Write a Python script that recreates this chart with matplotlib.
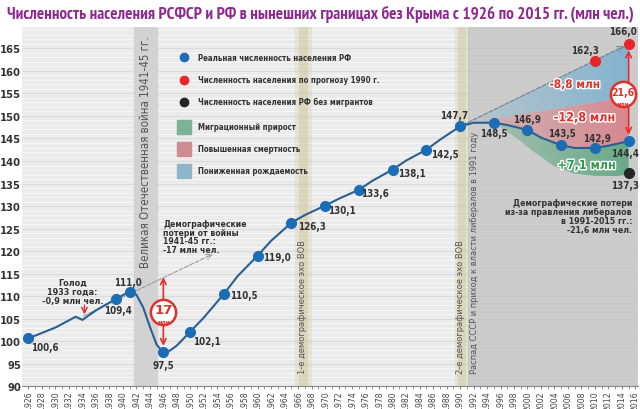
import numpy as np
import matplotlib
matplotlib.use("Agg")
import matplotlib.pyplot as plt
from matplotlib.patches import Polygon
import matplotlib.patheffects as pe

# population curve, mln
curve_years = [1926, 1930, 1933, 1934, 1936, 1939, 1941, 1942, 1943, 1944, 1945, 1946,
               1947, 1948, 1950, 1952, 1955, 1957, 1960, 1962, 1965, 1967, 1970, 1972,
               1975, 1977, 1980, 1982, 1985, 1987, 1990, 1992, 1995, 1997, 2000, 2002,
               2005, 2007, 2010, 2012, 2015]
curve_vals = [100.6, 103.0, 105.4, 104.7, 106.8, 109.4, 111.0, 110.3, 107.5, 103.2, 99.2, 97.5,
              97.9, 99.0, 102.1, 105.2, 110.5, 114.4, 119.0, 122.3, 126.3, 128.0, 130.1, 131.6,
              133.6, 135.6, 138.1, 140.1, 142.5, 144.7, 147.7, 148.5, 148.5, 148.0, 146.9, 145.2,
              143.5, 142.9, 142.9, 143.4, 144.4]

# labelled points
pt_years = [1926, 1939, 1941, 1946, 1950, 1955, 1960, 1965, 1970, 1975, 1980, 1985,
            1990, 1995, 2000, 2005, 2010, 2015]
pt_vals = [100.6, 109.4, 111.0, 97.5, 102.1, 110.5, 119.0, 126.3, 130.1, 133.6, 138.1, 142.5,
           147.7, 148.5, 146.9, 143.5, 142.9, 144.4]

# forecast 1990 and without migrants
fc_years = [2010, 2015]
fc_vals = [162.3, 166.0]
nomig_year = 2015
nomig_val = 137.3

# shaded zones boundaries
red_top_years = [1990, 1995, 2000, 2005, 2010, 2015]
red_top_vals = [147.7, 149.3, 150.6, 151.8, 153.0, 154.3]
green_bot_years = [1995, 1998, 2001, 2004, 2007, 2010, 2013, 2015]
green_bot_vals = [148.5, 145.5, 142.0, 138.8, 137.2, 136.7, 136.6, 137.0]

xtick_years = list(range(1926, 2017, 2))
ytick_vals = list(range(90, 166, 5))

COND = dict(family="DejaVu Sans", fontstretch="condensed")


def fmt(v):
    return f"{v:.1f}".replace(".", ",")


fig = plt.figure(figsize=(6.4, 4.1), dpi=100)
fig.patch.set_facecolor("white")
ax = fig.add_axes([0.035, 0.056, 0.962, 0.876])
ax.set_facecolor("#ebebeb")

# background stripes
for y in np.arange(90, 170, 1.0):
    ax.axhline(y, color="#f7f7f7", lw=0.7, zorder=0)
for y in ytick_vals:
    ax.axhline(y, color="#d6d6d6", lw=0.6, zorder=0)

# bands
ax.axvspan(1941.6, 1945.1, color="#d2d2d2", zorder=0.5)
ax.axvspan(1991.2, 2016.4, color="#c6c6c6", alpha=0.85, zorder=0.5)
for w, a in [(2.6, 0.25), (1.4, 0.45)]:
    ax.axvspan(1966.8 - w / 2, 1966.8 + w / 2, color="#cfc59a", alpha=a, lw=0, zorder=0.6)
for w, a in [(2.2, 0.25), (1.2, 0.45)]:
    ax.axvspan(1990.3 - w / 2, 1990.3 + w / 2, color="#cfc59a", alpha=a, lw=0, zorder=0.6)


def grad_fill(xs, ys, color, a0, a1):
    poly = Polygon(np.column_stack([xs, ys]), closed=True, facecolor="none", edgecolor="none")
    ax.add_patch(poly)
    rgb = matplotlib.colors.to_rgb(color)
    img = np.zeros((2, 100, 4))
    img[..., :3] = rgb
    img[..., 3] = np.linspace(a0, a1, 100)[None, :]
    im = ax.imshow(img, extent=(min(xs), max(xs), min(ys), max(ys)), origin="lower",
                   aspect="auto", zorder=1, interpolation="bilinear")
    im.set_clip_path(poly)


# blue zone: between forecast line and red top
grad_fill([1990, 2015] + red_top_years[::-1], [147.7, 166.0] + red_top_vals[::-1],
          "#7fb2cf", 0.2, 0.95)
# red zone: between red top and real curve
i90 = curve_years.index(1990)
grad_fill(red_top_years + curve_years[i90:][::-1], red_top_vals + curve_vals[i90:][::-1],
          "#d7858c", 0.25, 0.95)
# green zone
i95 = curve_years.index(1995)
grad_fill(curve_years[i95:] + green_bot_years[::-1], curve_vals[i95:] + green_bot_vals[::-1],
          "#63a884", 0.4, 0.95)
ax.set_xlim(1925.1, 2016.4)
ax.set_ylim(90, 169.8)

# forecast dashed line
ax.annotate("", xy=(2014.7, 165.8), xytext=(1990, 147.7),
            arrowprops=dict(arrowstyle="->", color="#6f7f8c", lw=0.8, ls="--"), zorder=2)
# pre-war trend dashed line
ax.annotate("", xy=(1953.7, 119.6), xytext=(1933.8, 105.3),
            arrowprops=dict(arrowstyle="->", color="#9a9a9a", lw=0.8, ls="--"), zorder=2)

# main curve and points
ax.plot(curve_years, curve_vals, color="#2b5f91", lw=1.5, zorder=3)
ax.plot(pt_years, pt_vals, "o", color="#1b6db5", ms=7, zorder=4)
ax.plot(fc_years, fc_vals, "o", color="#e8262a", ms=7, zorder=4)
ax.plot([nomig_year], [nomig_val], "o", color="#262626", ms=7, zorder=4)

lab_kw = dict(fontsize=7, fontweight="bold", color="#333333", zorder=5, ha="center",
              va="center", **COND)
label_pos = {
    1926: (1928.5, 98.6), 1939: (1939.2, 106.9), 1941: (1940.8, 113.1),
    1946: (1946.0, 94.6), 1950: (1952.5, 100.0), 1955: (1958.0, 110.2),
    1960: (1962.9, 118.7), 1965: (1968.1, 125.6), 1970: (1972.5, 129.1),
    1975: (1977.4, 132.9), 1980: (1982.9, 137.4), 1985: (1987.8, 141.6),
    1990: (1989.1, 150.3), 1995: (1995.0, 146.3), 2000: (2000.0, 149.4),
    2005: (2005.1, 146.3), 2010: (2010.3, 145.2), 2015: (2014.4, 141.8),
}
for yr, v in zip(pt_years, pt_vals):
    lx, ly = label_pos[yr]
    ax.text(lx, ly, fmt(v), **lab_kw)
ax.text(2008.5, 164.6, fmt(fc_vals[0]), **lab_kw)
ax.text(2014.2, 168.9, fmt(fc_vals[1]), **lab_kw)
ax.text(2014.4, 134.7, fmt(nomig_val), **lab_kw)

# zone labels
stroke = [pe.withStroke(linewidth=2, foreground="white")]
zl = dict(fontweight="bold", ha="center", va="center", path_effects=stroke, zorder=6, **COND)
ax.text(2007.0, 157.0, "-8,8 млн", color="#e1302b", fontsize=8.5, **zl)
ax.text(2008.5, 149.6, "-12,8 млн", color="#e1302b", fontsize=9, **zl)
ax.text(2008.8, 139.0, "+7,1 млн", color="#2f9a4c", fontsize=9, **zl)

# 21,6 mln arrow and circle
ax.annotate("", xy=(2015, 145.2), xytext=(2015, 165.2),
            arrowprops=dict(arrowstyle="<->", color="#e1302b", lw=1.2), zorder=6)
ax.scatter([2014.1], [154.8], s=330, facecolor="white", edgecolor="#e1302b", lw=1.8, zorder=7)
ax.text(2014.1, 155.4, "21,6", color="#e1302b", fontsize=7.5, fontweight="bold",
        ha="center", va="center", zorder=8, **COND)
ax.text(2014.1, 152.8, "млн", color="#e1302b", fontsize=4, fontweight="bold",
        ha="center", va="center", zorder=8)

# 17 mln arrow and circle
ax.annotate("", xy=(1946, 98.3), xytext=(1946, 114.8),
            arrowprops=dict(arrowstyle="<->", color="#e1302b", lw=1.2), zorder=6)
ax.scatter([1946], [106.4], s=330, facecolor="white", edgecolor="#e1302b", lw=1.8, zorder=7)
ax.text(1946, 107.0, "17", color="#e1302b", fontsize=9.5, fontweight="bold",
        ha="center", va="center", zorder=8)
ax.text(1946, 104.4, "млн", color="#e1302b", fontsize=4, fontweight="bold",
        ha="center", va="center", zorder=8)

# famine arrow
ax.annotate("", xy=(1934.3, 105.3), xytext=(1934.3, 108.6),
            arrowprops=dict(arrowstyle="->", color="#e1302b", lw=1.0), zorder=6)
note = dict(fontweight="bold", color="#333333", zorder=5, **COND)
ax.text(1932.5, 114.0, "Голод\n1933 года:\n-0,9 млн чел.", ha="center", va="top",
        fontsize=6.5, linespacing=1.0, **note)

# notes
ax.text(1946.0, 127.1, "Демографические\nпотери от войны\n1941-45 гг.:\n-17 млн чел.",
        ha="left", va="top", fontsize=6.2, linespacing=0.95, **note)
ax.text(2015.5, 131.8, "Демографические потери\nиз-за правления либералов\nв 1991-2015 гг.:\n-21,6 млн чел.",
        ha="right", va="top", fontsize=6.3, linespacing=1.0, **note)

# vertical captions
vt = dict(rotation=90, color="#555555", zorder=5, ha="center", va="bottom", **COND)
ax.text(1943.4, 116.5, "Великая Отечественная война 1941-45 гг.", fontsize=8.3, **vt)
ax.text(1966.7, 93.0, "1-е демографическое эхо ВОВ", fontsize=6.7, **vt)
ax.text(1990.0, 93.0, "2-е демографическое эхо ВОВ", fontsize=6.7, **vt)
ax.text(1992.1, 93.0, "Распад СССР и приход к власти либералов в 1991 году", fontsize=6.7, **vt)

# legend (custom, inside plot)
leg_items = [
    ("o", "#1b6db5", "Реальная численность населения РФ"),
    ("o", "#e8262a", "Численность населения по прогнозу 1990 г."),
    ("o", "#262626", "Численность населения РФ без мигрантов"),
    ("s", "#7cb398", "Миграционный прирост"),
    ("s", "#cf8d93", "Повышенная смертность"),
    ("s", "#8fb6c8", "Пониженная рождаемость"),
]
leg_y = [163.0, 158.1, 153.2, 147.6, 142.7, 137.8]
for (m, c, t), ly in zip(leg_items, leg_y):
    ax.plot([1949.1], [ly], m, color=c, ms=6 if m == "o" else 10, zorder=6)
    ax.text(1951.2, ly, t, ha="left", va="center", fontsize=5.7, fontweight="bold",
            color="#333333", zorder=6, **COND)

# axes styling
for s in ax.spines.values():
    s.set_visible(False)
ax.spines["bottom"].set_visible(True)
ax.spines["bottom"].set_color("#888888")
ax.set_xticks(xtick_years)
ax.set_xticklabels([str(y) for y in xtick_years], rotation=90, fontsize=6.2, color="#444444",
                   **COND)
ax.set_xticks(range(1926, 2017), minor=True)
ax.tick_params(axis="x", which="both", length=2, color="#888888", pad=1)
ax.set_yticks(ytick_vals)
ax.set_yticklabels([str(v) for v in ytick_vals], fontsize=8, fontweight="bold", color="#333333",
                   **COND)
ax.tick_params(axis="y", length=0, pad=1)

# title, fitted to the figure width
title = fig.text(0.5, 0.966, "Численность населения РСФСР и РФ в нынешних границах без Крыма с 1926 по 2015 гг. (млн чел.)",
                 ha="center", va="center", fontsize=15, fontweight="bold", color="#8e2a8f",
                 family=["PT Sans Narrow", "Roboto Condensed", "DejaVu Sans"])
r = fig.canvas.get_renderer()
w = title.get_window_extent(r).width
title.set_fontsize(min(15, 15 * 628 / w))

fig.savefig("out.png", dpi=100)
